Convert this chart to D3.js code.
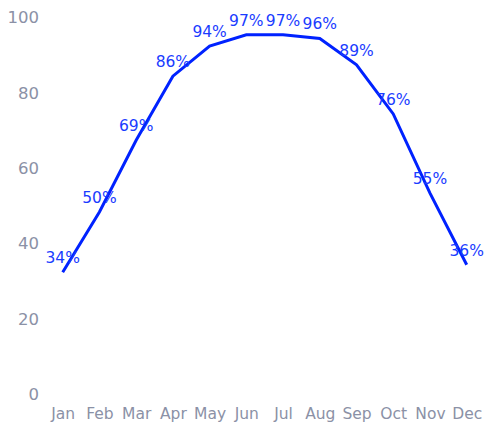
<!DOCTYPE html>
<html>
<head>
<meta charset="utf-8">
<script src="https://cdn.jsdelivr.net/npm/d3@7"></script>
<style>
  html, body { margin: 0; padding: 0; background: #fff; }
  svg { display: block; font-family: "DejaVu Sans", sans-serif; }
</style>
</head>
<body>
<svg id="chart" width="495" height="429"></svg>
<script>
// Monthly share, in percent
const months = ["Jan", "Feb", "Mar", "Apr", "May", "Jun", "Jul", "Aug", "Sep", "Oct", "Nov", "Dec"];
const values = [34, 50, 69, 86, 94, 97, 97, 96, 89, 76, 55, 36];
const yTicks = [0, 20, 40, 60, 80, 100];

const svg = d3.select("#chart");

const x = d3.scalePoint().domain(months).range([62.7, 466.7]);
const y = d3.scaleLinear().domain([0, 100]).range([400.5, 23.4]);

// Y axis labels (no domain line, no tick marks)
const yAxis = d3.axisLeft(y).tickValues(yTicks).tickSize(0).tickPadding(0);
const gy = svg.append("g").attr("transform", "translate(39,0)").call(yAxis);
gy.select(".domain").remove();
gy.selectAll("text")
  .attr("fill", "#8b91a6")
  .attr("font-size", 16.5)
  .attr("font-family", "DejaVu Sans, sans-serif")
  .attr("dy", "-0.05em");

// X axis labels
const xAxis = d3.axisBottom(x).tickSize(0).tickPadding(0);
const gx = svg.append("g").attr("transform", "translate(0,409)").call(xAxis);
gx.select(".domain").remove();
gx.selectAll("text")
  .attr("fill", "#8b91a6")
  .attr("font-size", 15.5)
  .attr("font-family", "DejaVu Sans, sans-serif")
  .attr("dy", "0.62em");

// Series line
const line = d3.line()
  .x((d, i) => x(months[i]))
  .y(d => y(d));

svg.append("path")
  .datum(values)
  .attr("fill", "none")
  .attr("stroke", "#0022ff")
  .attr("stroke-width", 3)
  .attr("stroke-linejoin", "miter")
  .attr("d", line);

// Value labels above each point
svg.append("g")
  .selectAll("text")
  .data(values)
  .join("text")
  .attr("x", (d, i) => x(months[i]))
  .attr("y", d => y(d) - 14)
  .attr("text-anchor", "middle")
  .attr("dominant-baseline", "central")
  .attr("fill", "#1a3cff")
  .attr("font-size", 15.5)
  .text(d => d + "%");
</script>
</body>
</html>
